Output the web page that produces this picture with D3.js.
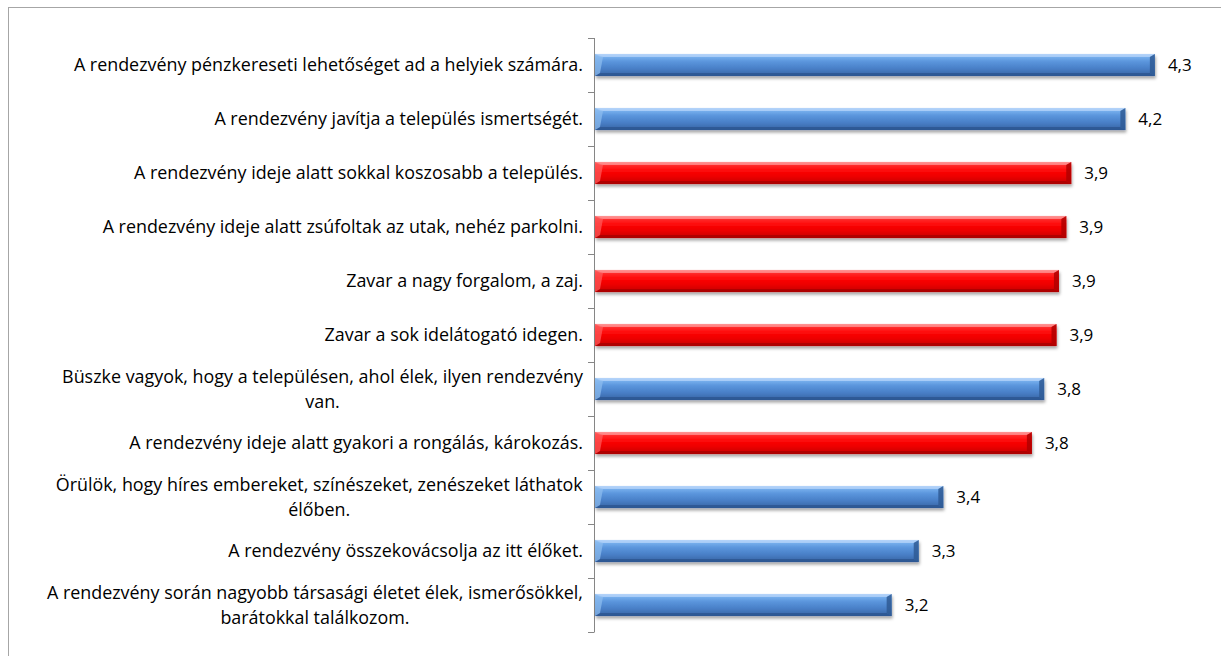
<!DOCTYPE html>
<html>
<head>
<meta charset="utf-8">
<script src="https://cdnjs.cloudflare.com/ajax/libs/d3/7.8.5/d3.min.js"></script>
<style>
  html, body { margin: 0; padding: 0; background: #fff; }
  svg { display: block; }
  text { font-family: "Open Sans", Lato, sans-serif; fill: #000; }
</style>
</head>
<body>
<svg id="chart" width="1221" height="656"></svg>
<script>
// ---- data ----
const categories = [
  "A rendezvény pénzkereseti lehetőséget ad a helyiek számára.",
  "A rendezvény javítja a település ismertségét.",
  "A rendezvény ideje alatt sokkal koszosabb a település.",
  "A rendezvény ideje alatt zsúfoltak az utak, nehéz parkolni.",
  "Zavar a nagy forgalom, a zaj.",
  "Zavar a sok idelátogató idegen.",
  "Büszke vagyok, hogy a településen, ahol élek, ilyen rendezvény\nvan.",
  "A rendezvény ideje alatt gyakori a rongálás, károkozás.",
  "Örülök, hogy híres embereket, színészeket, zenészeket láthatok\nélőben.",
  "A rendezvény összekovácsolja az itt élőket.",
  "A rendezvény során nagyobb társasági életet élek, ismerősökkel,\nbarátokkal találkozom."
];
const values = [4.28, 4.16, 3.94, 3.92, 3.89, 3.88, 3.83, 3.78, 3.42, 3.32, 3.21];
// type: "pos" = positive effect (blue), "neg" = negative effect (red)
const types = ["pos", "pos", "neg", "neg", "neg", "neg", "pos", "neg", "pos", "pos", "pos"];
const xDomain = [2, 4.5];

// ---- layout ----
const svg = d3.select("#chart");
const plot = { left: 594, right: 1209, top: 38, bottom: 632 };
const labelFont = 17.9;
const valueFont = 17;

const x = d3.scaleLinear().domain(xDomain).range([plot.left, plot.right]);
const y = d3.scaleBand().domain(d3.range(categories.length))
  .range([plot.top, plot.bottom]).paddingInner(0.59).paddingOuter(0.295);

// chart border (only top and left visible)
svg.append("rect").attr("x", 8.5).attr("y", 7.5).attr("width", 1240).attr("height", 680)
  .attr("fill", "none").attr("stroke", "#a6a6a6").attr("stroke-width", 1);

// ---- defs: gradients & shadow ----
const defs = svg.append("defs");
const palettes = {
  pos: { stops: [[0, "#a9cdf7"], [0.12, "#78b0ee"], [0.35, "#5a95dc"], [0.65, "#4a80c8"], [1, "#3563a3"]],
         top: "#b8d6fa", left: "#8fbdf0", right: "#2f5a94", bottom: "#2c5590" },
  neg: { stops: [[0, "#ff8080"], [0.12, "#ff3030"], [0.35, "#ff0a0a"], [0.65, "#ee0000"], [1, "#c40000"]],
         top: "#ff9a9a", left: "#ff5c5c", right: "#b00000", bottom: "#a80000" }
};
Object.entries(palettes).forEach(([k, p]) => {
  const g = defs.append("linearGradient").attr("id", "grad-" + k)
    .attr("x1", 0).attr("y1", 0).attr("x2", 0).attr("y2", 1);
  p.stops.forEach(s => g.append("stop").attr("offset", s[0]).attr("stop-color", s[1]));
});
const f = defs.append("filter").attr("id", "shadow")
  .attr("x", "-5%").attr("y", "-30%").attr("width", "110%").attr("height", "180%");
f.append("feDropShadow").attr("dx", 1).attr("dy", 2.5).attr("stdDeviation", 1.6)
  .attr("flood-color", "#000").attr("flood-opacity", 0.35);

// ---- axis ----
const axisG = svg.append("g");
axisG.append("line").attr("x1", plot.left + 0.5).attr("x2", plot.left + 0.5)
  .attr("y1", plot.top).attr("y2", plot.bottom).attr("stroke", "#868686");
const step = y.step();
const firstEdge = y(0) - y.paddingOuter() * step;
d3.range(categories.length + 1).map(i => firstEdge + i * step).forEach(t => {
  axisG.append("line").attr("x1", plot.left - 6).attr("x2", plot.left + 0.5)
    .attr("y1", Math.round(t) + 0.5).attr("y2", Math.round(t) + 0.5).attr("stroke", "#868686");
});

// ---- bars ----
const bw = y.bandwidth();
const bev = 5;
const bars = svg.append("g").selectAll("g.bar").data(values).join("g").attr("class", "bar");
bars.each(function (v, i) {
  const g = d3.select(this);
  const p = palettes[types[i]];
  const x0 = x(xDomain[0]) + 1, x1 = x(v), y0 = y(i), y1 = y(i) + bw;
  g.append("rect").attr("x", x0).attr("y", y0).attr("width", x1 - x0).attr("height", bw)
    .attr("fill", "url(#grad-" + types[i] + ")").attr("filter", "url(#shadow)");
  g.append("polygon").attr("points", [[x0, y0], [x1, y0], [x1 - bev, y0 + 3], [x0 + bev, y0 + 3]].join(" "))
    .attr("fill", p.top).attr("opacity", 0.75);
  g.append("polygon").attr("points", [[x0, y1], [x1, y1], [x1 - bev, y1 - 3], [x0 + bev, y1 - 3]].join(" "))
    .attr("fill", p.bottom).attr("opacity", 0.8);
  g.append("polygon").attr("points", [[x0, y0], [x0 + bev + 3, y0 + 3], [x0 + bev, y1 - 3], [x0, y1]].join(" "))
    .attr("fill", p.left).attr("opacity", 0.7);
  g.append("polygon").attr("points", [[x1, y0], [x1 - bev, y0 + 3], [x1 - bev, y1 - 3], [x1, y1]].join(" "))
    .attr("fill", p.right).attr("opacity", 0.85);
  g.append("text").attr("x", x1 + 13).attr("y", y0 + bw / 2).attr("dy", "0.36em")
    .attr("font-size", valueFont).text(d3.format(".1f")(v).replace(".", ","));
});

// ---- category labels ----
const labelRight = 583;
const lineH = 24.5;
categories.forEach((c, i) => {
  const lines = c.split("\n");
  const cy = y(i) + bw / 2;
  const t = svg.append("text").attr("font-size", labelFont).attr("text-anchor", "middle");
  lines.forEach((ln, j) => {
    t.append("tspan").attr("x", 0).attr("y", cy + (j - (lines.length - 1) / 2) * lineH)
      .attr("dy", "0.36em").text(ln);
  });
  const w = t.node().getBBox().width;
  t.selectAll("tspan").attr("x", labelRight - w / 2);
});
</script>
</body>
</html>
